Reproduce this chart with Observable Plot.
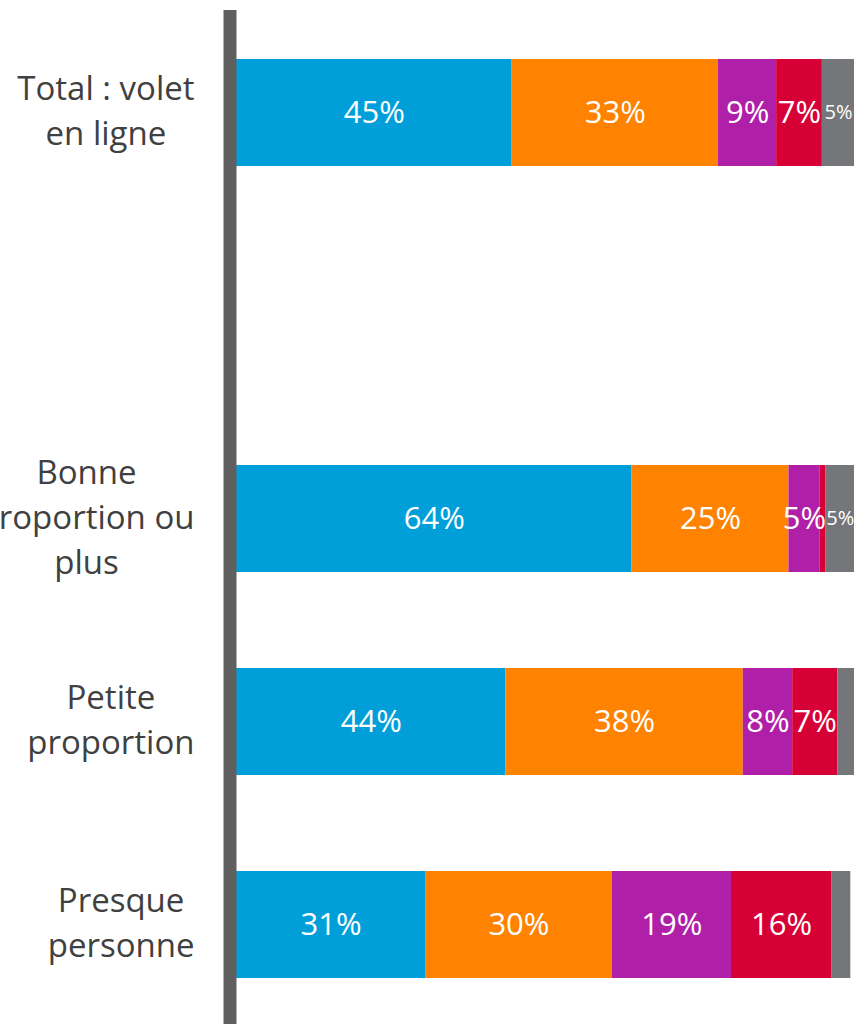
<!DOCTYPE html>
<html>
<head>
<meta charset="utf-8">
<script src="https://cdn.jsdelivr.net/npm/d3@7"></script>
<script src="https://cdn.jsdelivr.net/npm/@observablehq/plot@0.6"></script>
<style>
  html, body { margin: 0; padding: 0; background: #fff; }
  #chart svg { display: block; }
</style>
</head>
<body>
<div id="chart"></div>
<script>
// Rows (groups) shown on the chart, top to bottom
const rows = ["Total : volet\nen ligne", "Bonne\nproportion ou\nplus", "Petite\nproportion", "Presque\npersonne"];
// Response categories (stack order, left to right)
const categories = ["Catégorie 1", "Catégorie 2", "Catégorie 3", "Catégorie 4", "Catégorie 5"];
const colors = ["#009fda", "#ff8200", "#b01fa8", "#d70036", "#75767a"];
// Percentages per row, in category order
const totalValues  = [44.6, 33.4, 9.4, 7.4, 5.2];
const bonneValues  = [64.0, 25.4, 5.0, 1.0, 4.6];
const petiteValues = [43.6, 38.4, 8.0, 7.3, 2.7];
const presqueValues = [30.6, 30.2, 19.3, 16.2, 3.1];

const seriesByRow = [totalValues, bonneValues, petiteValues, presqueValues];
const data = [];
rows.forEach((r, i) => {
  categories.forEach((c, j) => {
    data.push({row: r, cat: c, value: seriesByRow[i][j], idx: j});
  });
});

const spacer = "\u2003";
const yDomain = [rows[0], spacer, rows[1], rows[2], rows[3]];

const font = "'Open Sans', 'Noto Sans', sans-serif";
const labelSize = 33;

// Category labels: block right-aligned, lines centred within the block
const ctx = document.createElement("canvas").getContext("2d");
ctx.font = `${labelSize}px 'Open Sans'`;
const labelLines = [];
rows.forEach(r => {
  const lines = r.split("\n");
  const w = d3.max(lines, l => ctx.measureText(l).width);
  lines.forEach((l, k) => {
    labelLines.push({row: r, text: l, k, n: lines.length, w});
  });
});
const rightEdge = 42; // gap from axis to the right edge of the label block

const chart = Plot.plot({
  width: 854,
  height: 1024,
  marginLeft: 236,
  marginRight: 0,
  marginTop: 10,
  marginBottom: 0,
  style: {fontFamily: font, background: "#fff"},
  x: {domain: [0, 100], axis: null},
  y: {domain: yDomain, axis: null, range: [10, 1026], paddingInner: 0.4736, paddingOuter: 0.2368},
  color: {domain: categories, range: colors},
  marks: [
    Plot.barX(data, {
      x: "value", y: "row", fill: "cat", order: categories
    }),
    Plot.text(data, Plot.stackX({
      x: "value", y: "row", order: categories,
      z: "row",
      text: d => d.value >= 4.5 ? Math.round(d.value) + "%" : null,
      fill: "white",
      fontSize: d => d.idx === 4 ? 20 : 31,
      fontFamily: font
    })),
    ...labelLines.map(L => Plot.text([L], {
      y: "row", frameAnchor: "left",
      text: "text",
      dx: -(rightEdge + L.w / 2),
      dy: (L.k - (L.n - 1) / 2) * 45 - 1,
      textAnchor: "middle",
      fontSize: labelSize,
      fill: "#404040",
      fontFamily: font
    })),
    Plot.ruleX([0], {stroke: "#5f5f5f", strokeWidth: 13, dx: -6.5})
  ]
});

document.getElementById("chart").appendChild(chart);
</script>
</body>
</html>
